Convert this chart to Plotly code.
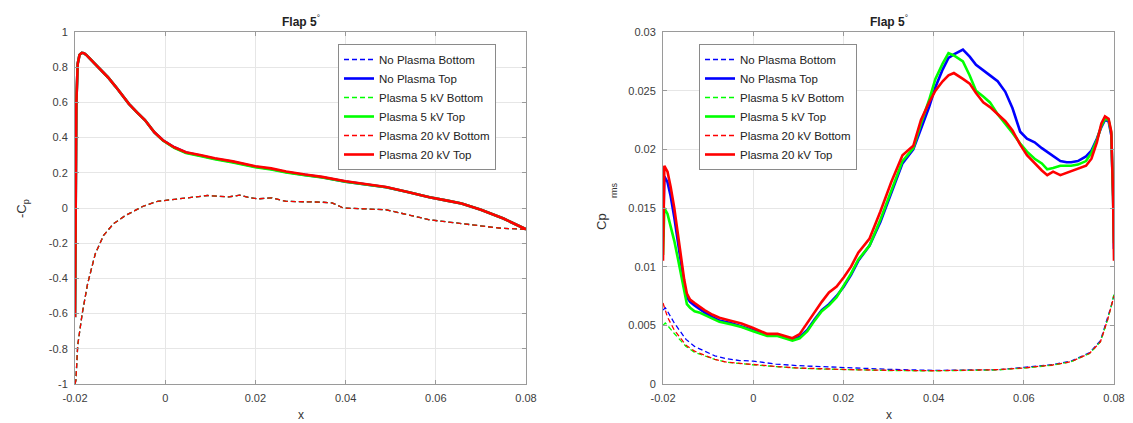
import plotly.graph_objects as go

# ---------------- LEFT: -Cp ----------------
x_cp_top = [-0.02, -0.0199, -0.0197, -0.0194, -0.019, -0.0185, -0.018, -0.0175, -0.016, -0.0145,
            -0.0127, -0.011, -0.0095, -0.008, -0.0063, -0.0045, -0.0024, -0.0005, 0.002, 0.0046,
            0.008, 0.011, 0.015, 0.02, 0.0235, 0.0268, 0.031, 0.0348, 0.04, 0.045,
            0.049, 0.054, 0.0586, 0.0625, 0.0657, 0.07, 0.075, 0.08]
cp_red_top = [-0.62, 0.1, 0.6, 0.82, 0.87, 0.882, 0.88, 0.87, 0.83, 0.79,
              0.743, 0.69, 0.64, 0.59, 0.545, 0.5, 0.43, 0.385, 0.345, 0.317,
              0.3, 0.283, 0.265, 0.237, 0.225, 0.207, 0.19, 0.177, 0.152, 0.133,
              0.119, 0.09, 0.061, 0.042, 0.025, -0.01, -0.06, -0.121]
cp_blue_top = [-0.62, 0.1, 0.6, 0.82, 0.87, 0.882, 0.88, 0.87, 0.83, 0.79,
               0.743, 0.69, 0.64, 0.59, 0.545, 0.5, 0.43, 0.385, 0.345, 0.315,
               0.297, 0.28, 0.262, 0.234, 0.222, 0.205, 0.188, 0.175, 0.15, 0.132,
               0.118, 0.09, 0.061, 0.042, 0.025, -0.01, -0.06, -0.121]
cp_green_top = [-0.62, 0.1, 0.6, 0.82, 0.87, 0.882, 0.88, 0.87, 0.83, 0.79,
                0.743, 0.69, 0.64, 0.59, 0.545, 0.5, 0.43, 0.383, 0.342, 0.312,
                0.294, 0.277, 0.259, 0.231, 0.219, 0.202, 0.186, 0.174, 0.149, 0.131,
                0.118, 0.09, 0.061, 0.042, 0.025, -0.01, -0.06, -0.121]

x_cp_bot = [-0.02, -0.0198, -0.0194, -0.0184, -0.0172, -0.0155, -0.0137, -0.0115, -0.0089, -0.0065,
            -0.0049, -0.0017, 0.003, 0.0094, 0.0141, 0.0165, 0.0185, 0.0206, 0.0237, 0.0268,
            0.0348, 0.037, 0.0395, 0.049, 0.0586, 0.065, 0.0744, 0.08]
cp_red_bot = [-1.0, -0.98, -0.78, -0.6, -0.43, -0.26, -0.157, -0.09, -0.044, -0.01,
              0.01, 0.038, 0.052, 0.071, 0.063, 0.073, 0.06, 0.052, 0.058, 0.038,
              0.033, 0.029, 0.0, -0.01, -0.067, -0.087, -0.115, -0.121]
cp_blue_bot = list(cp_red_bot)
cp_green_bot = list(cp_red_bot)

# ---------------- RIGHT: Cp rms ----------------
x_rms_top = [-0.02, -0.0197, -0.019, -0.0183, -0.0175, -0.0167, -0.016, -0.0153, -0.0147, -0.014,
             -0.013, -0.012, -0.0108, -0.009, -0.0075, -0.005, -0.0026, 0.0, 0.0031, 0.0054,
             0.007, 0.0087, 0.0103, 0.012, 0.0136, 0.0152, 0.0168, 0.0185, 0.0201, 0.0217,
             0.0233, 0.0258, 0.0282, 0.0306, 0.0331, 0.0355, 0.0372, 0.039, 0.0404, 0.042,
             0.0433, 0.0445, 0.0465, 0.048, 0.0494, 0.051, 0.0525, 0.0542, 0.0559, 0.0575,
             0.0592, 0.0607, 0.0624, 0.064, 0.0652, 0.0665, 0.0681, 0.0695, 0.0705, 0.072,
             0.0738, 0.075, 0.0762, 0.0772, 0.078, 0.0788, 0.0794, 0.0798, 0.08]
rms_red_top = [0.0105, 0.0186, 0.0181, 0.0168, 0.015, 0.0128, 0.0108, 0.0089, 0.0077, 0.0072,
               0.0069, 0.0066, 0.0063, 0.0059, 0.00565, 0.0054, 0.00515, 0.00477, 0.00427, 0.00428,
               0.0041, 0.0039, 0.00425, 0.0052, 0.0062, 0.007, 0.0078, 0.0083, 0.0091, 0.0100,
               0.0112, 0.0124, 0.0147, 0.0172, 0.0195, 0.0203, 0.0225, 0.0240, 0.0250, 0.0258,
               0.0263, 0.0265, 0.0260, 0.0256, 0.0248, 0.0240, 0.0236, 0.0230, 0.0224, 0.0216,
               0.0204, 0.0195, 0.0188, 0.0182, 0.0178, 0.0181, 0.0178, 0.0180, 0.0181, 0.0183,
               0.0186, 0.0192, 0.0206, 0.0222, 0.0228, 0.0226, 0.0215, 0.016, 0.0105]
rms_blue_top = [0.0125, 0.0177, 0.0172, 0.016, 0.0142, 0.0122, 0.0102, 0.0085, 0.0074, 0.007,
                0.0067, 0.0064, 0.0061, 0.0057, 0.0054, 0.0052, 0.0049, 0.0046, 0.0042, 0.0042,
                0.0040, 0.0038, 0.0040, 0.0046, 0.0055, 0.0063, 0.0068, 0.0075, 0.0083, 0.0093,
                0.0105, 0.0118, 0.0138, 0.0163, 0.0188, 0.0200, 0.0218, 0.0236, 0.0253, 0.0268,
                0.0278, 0.0281, 0.0285, 0.0279, 0.0272, 0.0267, 0.0263, 0.0258, 0.0249, 0.0235,
                0.0215, 0.0209, 0.0206, 0.0201, 0.0198, 0.0194, 0.0190, 0.0189, 0.0189, 0.0190,
                0.0194, 0.0199, 0.0209, 0.0219, 0.0225, 0.0224, 0.0212, 0.016, 0.0115]
rms_green_top = [0.011, 0.0150, 0.0145, 0.0135, 0.0122, 0.0107, 0.0093, 0.0078, 0.0068, 0.0065,
                 0.0062, 0.0061, 0.0059, 0.0056, 0.0053, 0.0051, 0.00486, 0.0045, 0.0041, 0.0041,
                 0.0039, 0.0037, 0.0039, 0.0045, 0.0054, 0.0062, 0.0067, 0.0074, 0.0084, 0.0094,
                 0.0106, 0.0118, 0.0140, 0.0165, 0.0190, 0.0201, 0.0222, 0.0242, 0.0260, 0.0273,
                 0.0282, 0.0280, 0.0275, 0.0263, 0.0250, 0.0245, 0.0240, 0.0230, 0.0222, 0.0214,
                 0.0205, 0.0198, 0.0192, 0.0188, 0.0183, 0.0184, 0.0186, 0.0186, 0.0186, 0.0187,
                 0.0190, 0.0197, 0.0208, 0.0220, 0.0226, 0.0225, 0.0214, 0.016, 0.012]

x_rms_bot = [-0.02, -0.0195, -0.019, -0.0175, -0.0149, -0.013, -0.0108, -0.0085, -0.0059, -0.003,
             0.0, 0.005, 0.0096, 0.015, 0.0217, 0.03, 0.04, 0.0542, 0.06, 0.0664,
             0.0705, 0.0746, 0.077, 0.0786, 0.0795, 0.08]
rms_blue_bot = [0.0063, 0.0065, 0.0062, 0.0052, 0.0038, 0.0032, 0.0028, 0.0024, 0.00215, 0.0020,
                0.00195, 0.0017, 0.00157, 0.00147, 0.00137, 0.00125, 0.00116, 0.00122, 0.00142, 0.00166,
                0.00195, 0.00267, 0.0037, 0.0056, 0.0068, 0.0076]
rms_red_bot = [0.0069, 0.0062, 0.0057, 0.0046, 0.0033, 0.0028, 0.00244, 0.0021, 0.00186, 0.00175,
               0.00166, 0.0015, 0.00137, 0.0013, 0.00122, 0.00117, 0.00113, 0.00122, 0.00137, 0.00162,
               0.0019, 0.00262, 0.0036, 0.0055, 0.0067, 0.0075]
rms_green_bot = [0.0050, 0.0052, 0.0050, 0.0043, 0.0032, 0.0027, 0.0024, 0.0021, 0.00185, 0.00172,
                 0.00163, 0.00148, 0.00135, 0.00128, 0.0012, 0.00115, 0.00112, 0.0012, 0.00136, 0.0016,
                 0.0019, 0.0026, 0.0036, 0.0055, 0.0068, 0.0077]

names = ["No Plasma Bottom", "No Plasma Top", "Plasma 5 kV Bottom",
         "Plasma 5 kV Top", "Plasma 20 kV Bottom", "Plasma 20 kV Top"]
x_ticks = [-0.02, 0, 0.02, 0.04, 0.06, 0.08]
x_ticklabels = ["-0.02", "0", "0.02", "0.04", "0.06", "0.08"]
cp_ticks = [-1, -0.8, -0.6, -0.4, -0.2, 0, 0.2, 0.4, 0.6, 0.8, 1]
cp_ticklabels = ["-1", "-0.8", "-0.6", "-0.4", "-0.2", "0", "0.2", "0.4", "0.6", "0.8", "1"]
rms_ticks = [0, 0.005, 0.01, 0.015, 0.02, 0.025, 0.03]
rms_ticklabels = ["0", "0.005", "0.01", "0.015", "0.02", "0.025", "0.03"]

BLUE, GREEN, RED = "#0000ff", "#00ff00", "#ff0000"
W, H = 1133, 423

fig = go.Figure()

left_series = [(x_cp_bot, cp_blue_bot, BLUE, True), (x_cp_top, cp_blue_top, BLUE, False),
               (x_cp_bot, cp_green_bot, GREEN, True), (x_cp_top, cp_green_top, GREEN, False),
               (x_cp_bot, cp_red_bot, RED, True), (x_cp_top, cp_red_top, RED, False)]
right_series = [(x_rms_bot, rms_blue_bot, BLUE, True), (x_rms_top, rms_blue_top, BLUE, False),
                (x_rms_bot, rms_green_bot, GREEN, True), (x_rms_top, rms_green_top, GREEN, False),
                (x_rms_bot, rms_red_bot, RED, True), (x_rms_top, rms_red_top, RED, False)]

for (xs, ys, c, dashed), nm in zip(left_series, names):
    fig.add_trace(go.Scatter(x=xs, y=ys, mode="lines", name=nm, legend="legend",
                             line=dict(color=c, width=1.3 if dashed else 2.6,
                                       dash="5px,3px" if dashed else "solid"),
                             xaxis="x", yaxis="y"))
for (xs, ys, c, dashed), nm in zip(right_series, names):
    fig.add_trace(go.Scatter(x=xs, y=ys, mode="lines", name=nm, legend="legend2",
                             line=dict(color=c, width=1.3 if dashed else 2.6,
                                       dash="5px,3px" if dashed else "solid"),
                             xaxis="x2", yaxis="y2"))

FONT = "Liberation Sans, Arial, sans-serif"
tickfont = dict(family=FONT, size=11, color="#3c3c3c")
axis_common = dict(showline=True, linecolor="#9a9a9a", linewidth=1, mirror="ticks",
                   ticks="inside", ticklen=4, tickcolor="#9a9a9a",
                   showgrid=True, gridcolor="#e6e6e6", gridwidth=1, zeroline=False,
                   tickfont=tickfont, automargin=False)

legend_font = dict(family=FONT, size=11.5, color="#222")
ytop, ybot = 1 - 32 / H, 1 - 384 / H
fig.update_layout(
    width=W, height=H, margin=dict(l=0, r=0, t=0, b=0, pad=0, autoexpand=False),
    paper_bgcolor="white", plot_bgcolor="white",
    xaxis=dict(domain=[75 / W, 526 / W], range=[-0.02, 0.08], tickvals=x_ticks,
               ticktext=x_ticklabels, anchor="y", ticklabelstandoff=4, **axis_common),
    yaxis=dict(domain=[ybot, ytop], range=[-1, 1], tickvals=cp_ticks,
               ticktext=cp_ticklabels, anchor="x", ticklabelstandoff=4, **axis_common),
    xaxis2=dict(domain=[663 / W, 1114 / W], range=[-0.02, 0.08], tickvals=x_ticks,
                ticktext=x_ticklabels, anchor="y2", ticklabelstandoff=4, **axis_common),
    yaxis2=dict(domain=[ybot, ytop], range=[0, 0.03], tickvals=rms_ticks,
                ticktext=rms_ticklabels, anchor="x2", ticklabelstandoff=4, **axis_common),
    legend=dict(x=338 / W, y=1 - 44 / H, xanchor="left", yanchor="top",
                bgcolor="white", bordercolor="#8a8a8a", borderwidth=1,
                font=legend_font, tracegroupgap=0, itemwidth=30),
    legend2=dict(x=699 / W, y=1 - 44 / H, xanchor="left", yanchor="top",
                 bgcolor="white", bordercolor="#8a8a8a", borderwidth=1,
                 font=legend_font, tracegroupgap=0, itemwidth=30),
    showlegend=True,
)

ann_font = dict(family=FONT, size=12, color="#222")
annotations = [
    dict(text="<b>Flap 5</b><sup>°</sup>", x=300.5 / W, y=1 - 21 / H, xref="paper", yref="paper",
         showarrow=False, xanchor="center", yanchor="middle", font=ann_font),
    dict(text="<b>Flap 5</b><sup>°</sup>", x=888.5 / W, y=1 - 21 / H, xref="paper", yref="paper",
         showarrow=False, xanchor="center", yanchor="middle", font=ann_font),
    dict(text="x", x=300.5 / W, y=1 - 415 / H, xref="paper", yref="paper",
         showarrow=False, xanchor="center", yanchor="middle",
         font=dict(family=FONT, size=12, color="#333")),
    dict(text="x", x=888.5 / W, y=1 - 415 / H, xref="paper", yref="paper",
         showarrow=False, xanchor="center", yanchor="middle",
         font=dict(family=FONT, size=12, color="#333")),
    dict(text="-C<sub>p</sub>", x=22 / W, y=1 - 208 / H, xref="paper", yref="paper",
         showarrow=False, xanchor="center", yanchor="middle", textangle=-90,
         font=dict(family=FONT, size=13, color="#333")),
    dict(text="Cp", x=601 / W, y=1 - 222 / H, xref="paper", yref="paper",
         showarrow=False, xanchor="center", yanchor="middle", textangle=-90,
         font=dict(family=FONT, size=13, color="#333")),
    dict(text="rms", x=614 / W, y=1 - 191 / H, xref="paper", yref="paper",
         showarrow=False, xanchor="center", yanchor="middle", textangle=-90,
         font=dict(family=FONT, size=9, color="#333")),
]
fig.update_layout(annotations=annotations)

fig.write_html("out.html", config={"displayModeBar": False},
               post_script="document.body.style.margin='0';document.body.style.overflow='hidden';")
